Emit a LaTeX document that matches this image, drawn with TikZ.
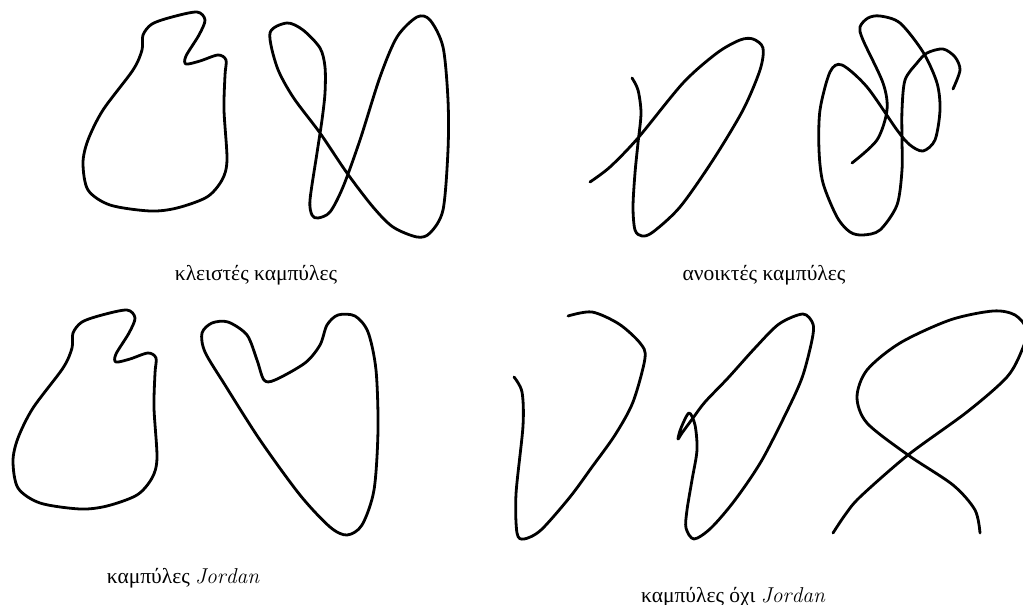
\documentclass[tikz,border=0pt]{standalone}
\usepackage{fontspec}
\newfontfamily\greekfont{Liberation Serif}
\tikzset{
  curve/.style={line width=2.8pt, line join=round, line cap=round},
  lbl/.style={font=\fontsize{21.5}{25}\selectfont\greekfont, inner sep=0pt}
}
\begin{document}
\begin{tikzpicture}[x=1pt,y=-1pt]
\useasboundingbox (0,0) rectangle (1023,605);
% top-left closed blob
\draw[curve] plot[smooth cycle] coordinates {(143,35) (152,24) (172,17) (197,12) (205,20) (199,35) (186,56) (186,64) (200,61) (218,55) (226,60) (225,75) (224,110) (227,160) (222,180) (207,197) (177,208) (150,211) (110,205) (88,190) (83,163) (88,140) (103,110) (133,70) (142,50)};
% top closed with crossing
\draw[curve] plot[smooth cycle] coordinates {(270,33) (287,23) (303,30) (320,48) (325,67) (325,93) (322,120) (317,153) (310,200) (312,215) (318,218) (330,212) (343,187) (360,140) (380,77) (397,37) (417,17) (430,20) (443,47) (448,100) (448,150) (443,210) (430,233) (417,237) (393,227) (373,207) (347,173) (320,133) (293,97) (277,67)};
% top open 1
\draw[curve] plot[smooth] coordinates {(632,78) (638,90) (641,113) (638,143) (635,173) (633,207) (635,230) (642,236) (653,232) (680,207) (713,160) (743,110) (760,70) (763,48) (753,39) (740,40) (717,53) (683,83) (638,138) (610,167) (590,182)};
% top open 2
\draw[curve] plot[smooth] coordinates {(852,163) (877,140) (887,110) (883,83) (863,40) (860,27) (868,18) (880,16) (900,23) (923,52) (937,83) (940,110) (935,140) (923,151) (910,145) (897,130) (867,87) (842,65) (830,72) (820,110) (819,150) (823,183) (837,217) (850,232) (863,235) (880,230) (897,205) (902,170) (902,140) (902,110) (905,80) (917,63) (927,53) (943,49) (955,57) (960,70) (953,89)};
% bottom-left Jordan blob
\begin{scope}[shift={(-70,298)}]
\draw[curve] plot[smooth cycle] coordinates {(143,35) (152,24) (172,17) (197,12) (205,20) (199,35) (186,56) (186,64) (200,61) (218,55) (226,60) (225,75) (224,110) (227,160) (222,180) (207,197) (177,208) (150,211) (110,205) (88,190) (83,163) (88,140) (103,110) (133,70) (142,50)};
\end{scope}
% heart
\draw[curve] plot[smooth cycle] coordinates {(202,333) (212,323) (228,322) (247,335) (257,360) (264,380) (275,380) (305,363) (320,345) (327,325) (338,315) (355,316) (368,332) (376,370) (378,430) (374,490) (362,525) (347,535) (330,527) (300,495) (260,440) (225,385) (205,352)};
% bottom V open
\draw[curve] plot[smooth] coordinates {(514,377) (522,392) (523,426) (516,494) (517,533) (524,539) (541,530) (570,497) (592,467) (615,435) (633,402) (645,358) (640,343) (619,324) (592,312) (568,316)};
% bottom closed with small loop
\draw[curve] plot[smooth cycle] coordinates {(689,413) (695,425) (697,450) (692,480) (687,510) (686,528) (694,539) (711,528) (735,500) (762,460) (790,405) (803,375) (812,340) (813,324) (803,314) (779,324) (755,348) (728,378) (705,402) (693,418) (682,433) (678,439) (681,428)};
% bottom right open figure eight
\draw[curve] plot[smooth] coordinates {(833,533) (845,515) (860,497) (908,455) (967,412) (1007,377) (1022,350) (1027,330) (1015,315) (993,311) (950,320) (900,343) (867,370) (857,397) (867,423) (908,455) (953,485) (975,510) (980,533)};
% labels
\node[lbl] (l1) at (256,275) {κλειστές καμπύλες};
\node[lbl] (l2) at (764,275) {ανοικτές καμπύλες};
\node[lbl] (l3) at (183,578) {καμπύλες $\mathit{Jordan}$};
\node[lbl] (l4) at (733,597) {καμπύλες όχι $\mathit{Jordan}$};
\end{tikzpicture}
\end{document}
